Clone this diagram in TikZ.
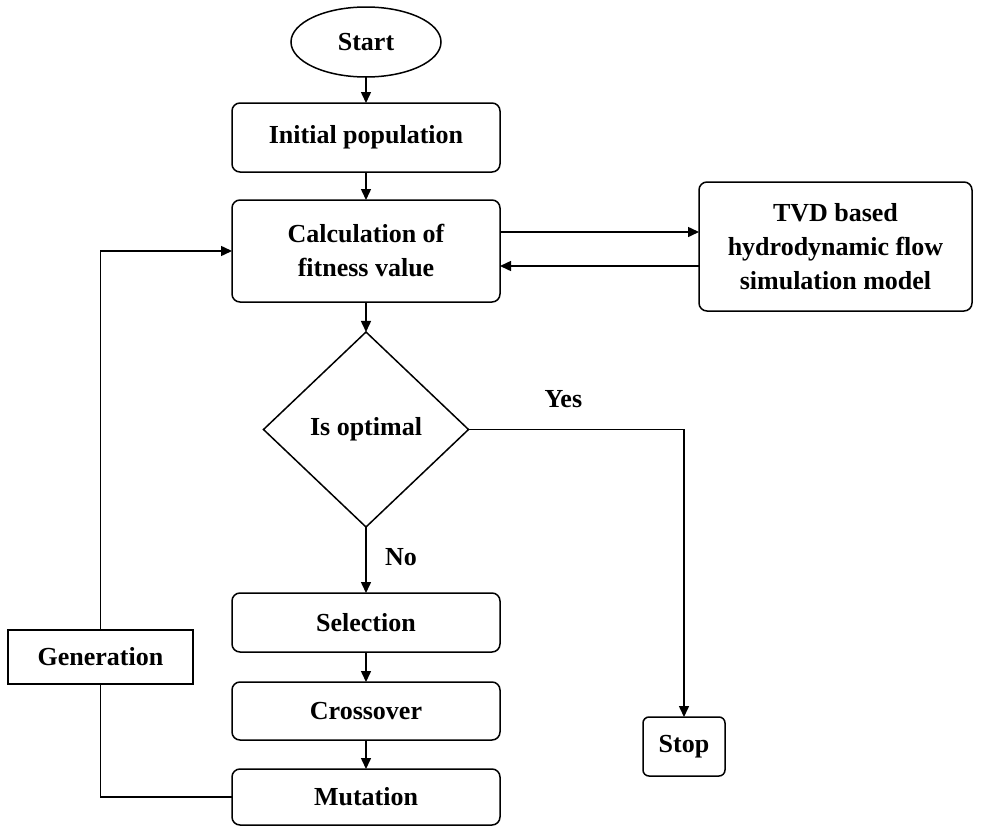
\documentclass[tikz,border=0pt]{standalone}
\usepackage{fontspec}
\setmainfont{Liberation Serif}
\usetikzlibrary{arrows.meta, positioning, shapes.geometric}

\begin{document}
\begin{tikzpicture}[
  x=1pt, y=-1pt,
  font=\fontsize{26pt}{34pt}\selectfont\bfseries,
  box/.style={draw, rounded corners=8pt, minimum width=268pt,
    align=center, inner sep=2pt, outer sep=0pt, fill=white},
  term/.style={draw, ellipse, minimum width=150pt, minimum height=70pt,
    inner sep=0pt, outer sep=0pt},
  dec/.style={draw, diamond, minimum width=205pt, minimum height=195pt,
    inner sep=0pt, outer sep=0pt},
  plainbox/.style={draw, minimum width=185pt, minimum height=54pt,
    inner sep=2pt, outer sep=0pt},
  ->, >={Triangle[length=11pt, width=10pt]}, line width=1.5pt
]
\useasboundingbox (0,0) rectangle (988,827);

% main column
\node[term] (start) at (366,42) {Start};
\node[box, minimum height=69pt, below=26pt of start] (init) {Initial population};
\node[box, minimum height=102pt, below=28pt of init] (calc) {Calculation of\\fitness value};
\node[box, minimum width=273pt, minimum height=129pt, right=199pt of calc, yshift=4.5pt] (tvd)
  {TVD based\\hydrodynamic flow\\simulation model};
\node[dec, below=30pt of calc] (opt) {Is optimal};
\node[box, minimum height=59pt, below=66pt of opt] (sel) {Selection};
\node[box, minimum height=58pt, below=30pt of sel] (cross) {Crossover};
\node[box, minimum height=56pt, below=29pt of cross] (mut) {Mutation};

% side nodes
\node[plainbox] (gen) at (100.5,657) {Generation};
\node[box, minimum width=82pt, minimum height=59pt, rounded corners=6pt] (stop) at (684,746.5) {Stop};

\draw (start) -- (init);
\draw (init) -- (calc);
\draw ([yshift=19pt]calc.east) -- ([yshift=19pt]calc.east -| tvd.west);
\draw ([yshift=-15pt]calc.east -| tvd.west) -- ([yshift=-15pt]calc.east);
\draw (calc) -- (opt);
\draw (opt) -- node[pos=0.45, right=15pt] {No} (sel);
\draw (opt.east) -| node[pos=0.22, above=18pt] {Yes} (stop.north);
\draw (sel) -- (cross);
\draw (cross) -- (mut);
\draw[-] (mut.west) -| (gen.south);
\draw (gen.north) |- (calc.west);
\end{tikzpicture}
\end{document}
